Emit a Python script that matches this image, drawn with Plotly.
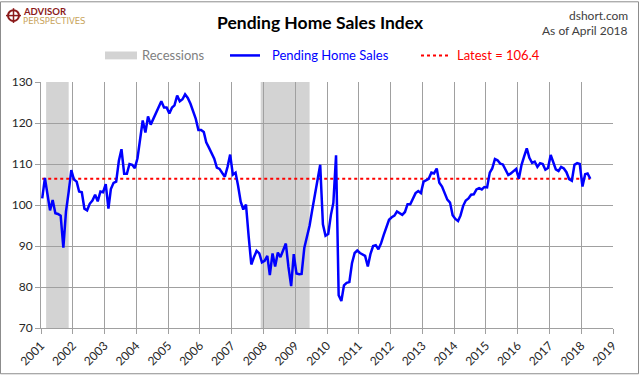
import pandas as pd
import plotly.graph_objects as go

# ---------------- data ----------------
phs_2001 = [101.6, 106.6, 102.8, 98.7, 101.2, 98.0, 97.8, 97.4, 89.6, 98.4, 103.2, 108.5]
phs_2002 = [106.2, 105.7, 103.3, 103.1, 99.1, 98.7, 100.3, 101.1, 102.5, 100.9, 103.3, 103.1]
phs_2003 = [105.1, 99.1, 103.9, 105.4, 105.7, 110.8, 113.6, 107.6, 107.6, 110.0, 109.8, 109.0]
phs_2004 = [111.4, 116.4, 120.6, 117.7, 121.6, 119.6, 121.0, 122.3, 123.8, 125.3, 123.8, 123.8]
phs_2005 = [122.3, 123.8, 124.3, 126.7, 125.3, 125.8, 127.0, 126.1, 124.7, 123.0, 121.0, 118.3]
phs_2006 = [118.3, 117.8, 115.3, 114.0, 112.8, 111.3, 109.1, 108.8, 107.8, 106.9, 109.3, 112.3]
phs_2007 = [107.4, 107.9, 104.8, 100.8, 98.9, 100.1, 92.5, 85.5, 87.3, 88.8, 88.2, 86.0]
phs_2008 = [86.4, 87.6, 82.9, 88.2, 85.0, 88.4, 87.3, 89.2, 90.6, 84.9, 80.2, 88.0]
phs_2009 = [83.3, 83.1, 83.2, 89.5, 92.3, 95.0, 98.8, 102.5, 106.0, 109.8, 95.3, 92.5]
phs_2010 = [92.9, 97.6, 100.5, 112.1, 78.0, 76.6, 80.4, 81.0, 81.2, 85.8, 88.3, 88.9]
phs_2011 = [88.3, 87.9, 87.6, 85.0, 88.0, 90.0, 90.2, 89.2, 90.7, 92.7, 94.5, 96.4]
phs_2012 = [97.0, 97.4, 98.4, 97.9, 97.6, 98.3, 100.2, 100.2, 101.6, 102.9, 103.4, 102.9]
phs_2013 = [105.7, 106.1, 106.4, 107.9, 107.7, 108.9, 105.4, 104.5, 102.9, 101.3, 100.6, 97.5]
phs_2014 = [96.6, 96.1, 97.4, 99.8, 101.1, 101.6, 102.5, 102.6, 103.8, 104.1, 103.8, 104.4]
phs_2015 = [104.3, 107.9, 108.9, 111.2, 110.9, 110.1, 109.9, 108.5, 107.3, 107.7, 108.3, 108.8]
phs_2016 = [106.4, 109.8, 111.8, 113.8, 111.5, 110.3, 110.6, 109.3, 110.2, 110.0, 108.6, 109.0]
phs_2017 = [112.2, 110.2, 108.7, 108.3, 109.3, 108.9, 108.0, 106.3, 105.9, 109.8, 110.2, 110.0]
phs_2018 = [104.5, 107.5, 107.7, 106.4]

recession_starts = ["2001-03-01", "2007-12-01"]
recession_ends = ["2001-11-15", "2009-06-15"]

year_ticks = [str(y) for y in range(2001, 2020)]

values = (phs_2001 + phs_2002 + phs_2003 + phs_2004 + phs_2005 + phs_2006 + phs_2007 +
          phs_2008 + phs_2009 + phs_2010 + phs_2011 + phs_2012 + phs_2013 + phs_2014 +
          phs_2015 + phs_2016 + phs_2017 + phs_2018)
dates = pd.date_range("2001-01-01", periods=len(values), freq="MS") + pd.Timedelta(days=14)
latest = values[-1]

# ---------------- layout helpers ----------------
W, H = 640, 380
ML, MR, MT, MB = 41, 27, 82, 48
PW, PH = W - ML - MR, H - MT - MB


def xp(px):
    return (px - ML) / PW


def yp(py):
    return (H - MB - py) / PH


FONT = "Lato"
BLUE = "#0000FF"
RED = "#FF0000"
GRAY_BAND = "#D3D3D3"

fig = go.Figure()

fig.add_trace(go.Scatter(x=[dates[0], dates[-1]], y=[latest, latest], mode="lines",
                         line=dict(color=RED, width=2, dash="dot"), hoverinfo="skip"))
fig.add_trace(go.Scatter(x=dates, y=values, mode="lines",
                         line=dict(color=BLUE, width=2.5), name="Pending Home Sales"))

shapes = []
for s, e in zip(recession_starts, recession_ends):
    shapes.append(dict(type="rect", xref="x", yref="paper", x0=s, x1=e, y0=0, y1=1,
                       fillcolor=GRAY_BAND, line=dict(width=0), layer="below"))

# outer frame
shapes.append(dict(type="rect", xref="paper", yref="paper",
                   x0=xp(0.5), x1=xp(W - 1.5), y0=yp(H - 1.5), y1=yp(0.5),
                   line=dict(color="#8C8C8C", width=1), fillcolor="rgba(0,0,0,0)", layer="above"))

# legend swatches
shapes.append(dict(type="rect", xref="paper", yref="paper",
                   x0=xp(105), x1=xp(137), y0=yp(59), y1=yp(51),
                   fillcolor=GRAY_BAND, line=dict(width=0)))
shapes.append(dict(type="line", xref="paper", yref="paper",
                   x0=xp(230), x1=xp(260), y0=yp(55), y1=yp(55),
                   line=dict(color=BLUE, width=2.5)))
shapes.append(dict(type="line", xref="paper", yref="paper",
                   x0=xp(421), x1=xp(451), y0=yp(55), y1=yp(55),
                   line=dict(color=RED, width=2, dash="dot")))

# logo icon
shapes.append(dict(type="circle", xref="paper", yref="paper",
                   x0=xp(8), x1=xp(19), y0=yp(20), y1=yp(9),
                   line=dict(color="#8B1A1A", width=2), fillcolor="rgba(0,0,0,0)"))
shapes.append(dict(type="line", xref="paper", yref="paper",
                   x0=xp(13.5), x1=xp(13.5), y0=yp(22), y1=yp(7),
                   line=dict(color="#8B1A1A", width=1.5)))
shapes.append(dict(type="line", xref="paper", yref="paper",
                   x0=xp(6), x1=xp(21), y0=yp(14.5), y1=yp(14.5),
                   line=dict(color="#8B1A1A", width=1.5)))

annotations = [
    dict(text="<b>Pending Home Sales Index</b>", x=xp(320), y=yp(22), xanchor="center", yanchor="middle",
         font=dict(family=FONT, size=17.5, color="#000000")),
    dict(text="dshort.com", x=xp(629), y=yp(14), xanchor="right", yanchor="middle",
         font=dict(family=FONT, size=12, color="#404040")),
    dict(text="As of April 2018", x=xp(629), y=yp(30), xanchor="right", yanchor="middle",
         font=dict(family=FONT, size=12, color="#404040")),
    dict(text="<b>ADVISOR</b>", x=xp(22), y=yp(10), xanchor="left", yanchor="middle",
         font=dict(family=FONT, size=9.5, color="#8B1A1A")),
    dict(text="PERSPECTIVES", x=xp(22), y=yp(20), xanchor="left", yanchor="middle",
         font=dict(family="DejaVu Sans", size=8.5, color="#C8A35A")),
    dict(text="Recessions", x=xp(141), y=yp(55), xanchor="left", yanchor="middle",
         font=dict(family=FONT, size=13, color="#7F7F7F")),
    dict(text="Pending Home Sales", x=xp(271), y=yp(55), xanchor="left", yanchor="middle",
         font=dict(family=FONT, size=13, color=BLUE)),
    dict(text=f"Latest = {latest:.1f}", x=xp(456), y=yp(55), xanchor="left", yanchor="middle",
         font=dict(family=FONT, size=13, color=RED)),
]
for a in annotations:
    a.update(xref="paper", yref="paper", showarrow=False, borderpad=0)

fig.update_layout(
    width=W, height=H,
    margin=dict(l=ML, r=MR, t=MT, b=MB),
    paper_bgcolor="white", plot_bgcolor="white",
    showlegend=False,
    shapes=shapes, annotations=annotations,
    font=dict(family=FONT, size=12, color="#262626"),
)
fig.update_xaxes(
    type="date", range=["2001-01-01", "2019-01-01"],
    tickvals=[f"{y}-01-01" for y in year_ticks], ticktext=year_ticks,
    tickangle=-45, showgrid=True, gridcolor="#A0A0A0", gridwidth=1,
    showline=True, linecolor="#A0A0A0", linewidth=1,
    ticks="outside", ticklen=5, tickcolor="#A0A0A0",
    tickfont=dict(family=FONT, size=12, color="#262626"), zeroline=False,
)
fig.update_yaxes(
    range=[70, 130], dtick=10, showgrid=True, gridcolor="#A0A0A0", gridwidth=1,
    showline=True, linecolor="#A0A0A0", linewidth=1,
    ticks="outside", ticklen=5, tickcolor="#A0A0A0",
    tickfont=dict(family=FONT, size=12, color="#262626"), zeroline=False,
)

fig.write_html("out.html", config={"displayModeBar": False},
               post_script="document.body.style.margin='0';document.body.style.overflow='hidden';")
